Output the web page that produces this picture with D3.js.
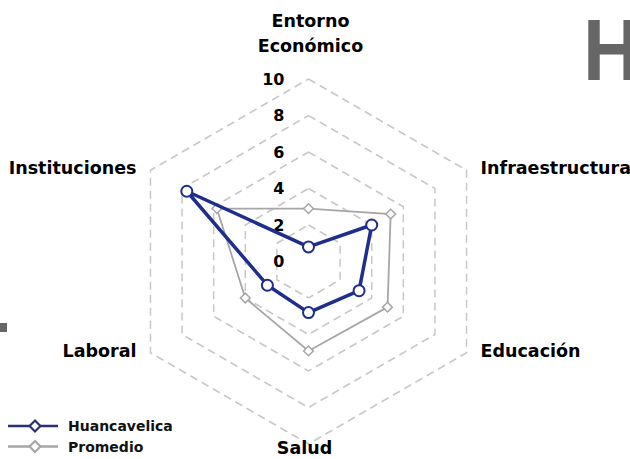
<!DOCTYPE html>
<html>
<head>
<meta charset="utf-8">
<script src="https://cdn.jsdelivr.net/npm/d3@7"></script>
<style>
  body { margin: 0; background: #fff; }
  svg { display: block; font-family: "DejaVu Sans", sans-serif; font-weight: bold; }
</style>
</head>
<body>
<svg id="chart" width="630" height="459"></svg>
<script>
// ejes del radar
var axes = ["Entorno Económico", "Infraestructura", "Educación", "Salud", "Laboral", "Instituciones"];
var huancavelica = [0.8, 4.0, 3.2, 2.8, 2.6, 7.7];
var promedio = [2.9, 5.2, 5.0, 4.9, 4.0, 5.8];
var ticks = [0, 2, 4, 6, 8, 10];

var svg = d3.select("#chart");
var W = 630, H = 459;
var cx = 308.5, cy = 261.5, R = 182.5;

var r = d3.scaleLinear().domain([0, 10]).range([0, R]);
var angle = d3.scaleLinear().domain([0, axes.length]).range([0, 2 * Math.PI]);

var g = svg.append("g").attr("transform", "translate(" + cx + "," + cy + ")");

function radarLine(vals) {
    return d3.lineRadial()
        .angle(function(d, i) { return angle(i); })
        .radius(function(d) { return r(d); })
        .curve(d3.curveLinearClosed)(vals);
}
function pt(v, i) {
    var a = angle(i);
    return [r(v) * Math.sin(a), -r(v) * Math.cos(a)];
}

// rejilla hexagonal punteada
ticks.filter(function(t) { return t > 0; }).forEach(function(t) {
    g.append("path")
        .attr("d", radarLine(axes.map(function() { return t; })))
        .attr("fill", "none")
        .attr("stroke", "#c8c8c8")
        .attr("stroke-width", 1.5)
        .attr("stroke-dasharray", "8,5");
});

// etiquetas de la escala
g.selectAll(".tick").data(ticks).enter().append("text")
    .attr("x", -24)
    .attr("y", function(d) { return -r(d); })
    .attr("text-anchor", "end")
    .attr("dominant-baseline", "central")
    .attr("font-size", 16)
    .attr("fill", "#000")
    .text(function(d) { return d; });

// serie Promedio
g.append("path")
    .attr("d", radarLine(promedio))
    .attr("fill", "none")
    .attr("stroke", "#a6a6a6")
    .attr("stroke-width", 1.8);
g.selectAll(".prom").data(promedio).enter().append("path")
    .attr("d", d3.symbol().type(d3.symbolDiamond2).size(60))
    .attr("transform", function(d, i) { var p = pt(d, i); return "translate(" + p[0] + "," + p[1] + ")"; })
    .attr("fill", "#fff")
    .attr("stroke", "#a6a6a6")
    .attr("stroke-width", 1.5);

// serie Huancavelica
g.append("path")
    .attr("d", radarLine(huancavelica))
    .attr("fill", "none")
    .attr("stroke", "#1f2e8c")
    .attr("stroke-width", 3.5)
    .attr("stroke-linejoin", "round");
g.selectAll(".huanca").data(huancavelica).enter().append("circle")
    .attr("cx", function(d, i) { return pt(d, i)[0]; })
    .attr("cy", function(d, i) { return pt(d, i)[1]; })
    .attr("r", 5.5)
    .attr("fill", "#fff")
    .attr("stroke", "#1f2e8c")
    .attr("stroke-width", 2);

// nombres de los ejes
axes.forEach(function(name, i) {
    var a = angle(i);
    var vx = R * Math.sin(a), vy = -R * Math.cos(a);
    var t = g.append("text").attr("font-size", 17.5).attr("fill", "#000");
    if (i == 0) {
        var words = name.split(" ");
        t.attr("text-anchor", "middle");
        t.append("tspan").attr("x", 2).attr("y", 27 - cy).text(words[0]);
        t.append("tspan").attr("x", 2).attr("y", 52 - cy).text(words[1]);
    } else if (i == 3) {
        t.attr("x", -4).attr("y", 454 - cy).attr("text-anchor", "middle").text(name);
    } else {
        t.attr("x", vx + (vx > 0 ? 14 : -14))
         .attr("y", vy - 2)
         .attr("text-anchor", vx > 0 ? "start" : "end")
         .attr("dominant-baseline", "central")
         .text(name);
    }
});

// leyenda
var legend = [
    {name: "Huancavelica", color: "#2b3075"},
    {name: "Promedio", color: "#a6a6a6"}
];
var lg = svg.append("g");
legend.forEach(function(d, i) {
    var y = 426 + i * 20.5;
    lg.append("line").attr("x1", 8).attr("x2", 58).attr("y1", y).attr("y2", y)
        .attr("stroke", d.color).attr("stroke-width", 2.5);
    lg.append("path")
        .attr("d", d3.symbol().type(d3.symbolDiamond2).size(75))
        .attr("transform", "translate(35," + y + ")")
        .attr("fill", "#fff").attr("stroke", d.color).attr("stroke-width", 2.2);
    lg.append("text").attr("x", 68).attr("y", y).attr("dominant-baseline", "central")
        .attr("font-size", 14).attr("fill", "#111").text(d.name);
});

// restos del título y marco (cortados)
svg.append("text")
    .attr("transform", "translate(583,80) scale(0.9,1)")
    .attr("font-family", "Liberation Sans")
    .attr("font-weight", "bold")
    .attr("font-size", 88)
    .attr("fill", "#666")
    .text("H");
svg.append("rect").attr("x", 0).attr("y", 323).attr("width", 7).attr("height", 9).attr("fill", "#666");
</script>
</body>
</html>
